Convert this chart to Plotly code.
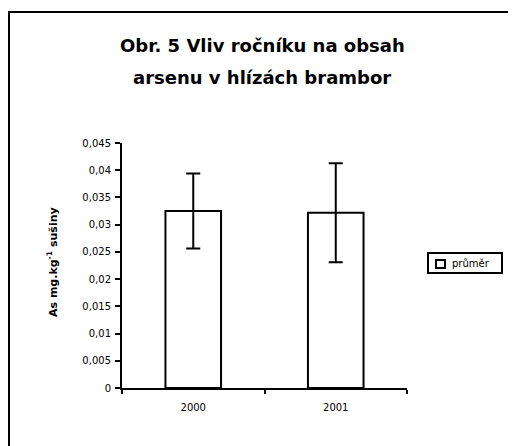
import plotly.graph_objects as go

years = ["2000", "2001"]
mean_as = [0.0325, 0.0322]
err_as = [0.0069, 0.0091]
tick_vals = [0, 0.005, 0.01, 0.015, 0.02, 0.025, 0.03, 0.035, 0.04, 0.045]
tick_text = ["0", "0,005", "0,01", "0,015", "0,02", "0,025", "0,03", "0,035", "0,04", "0,045"]
series_name = "průměr"
title_lines = ["Obr. 5 Vliv ročníku na obsah", "arsenu v hlízách brambor"]
y_title = "As mg.kg<sup>-1</sup> sušiny"

FONT = "DejaVu Sans, Arial, sans-serif"

# page has 8px body margin -> figure is 8px smaller, coordinates below are page pixels
OFF = 8
W, H = 516 - OFF, 446 - OFF
AX_L, AX_R, AX_T, AX_B = 122, 407, 143, 388   # page pixel positions of plot area
L = AX_L - OFF
R = W - (AX_R - OFF)
T = AX_T - OFF
B = H - (AX_B - OFF)
pw, ph = AX_R - AX_L, AX_B - AX_T

def px(x):
    return (x - AX_L) / pw

def py(y):
    return (AX_B - y) / ph

fig = go.Figure()
fig.add_trace(go.Bar(
    x=years, y=mean_as, name=series_name,
    marker=dict(color="white", line=dict(color="black", width=2)),
    width=0.39,
    error_y=dict(type="data", array=err_as, visible=True, color="black",
                 thickness=2, width=7),
    showlegend=False,
))

annotations = [
    dict(text="<b>" + title_lines[0] + "</b>", x=px(262), y=py(46), xref="paper", yref="paper",
         showarrow=False, font=dict(size=18, color="black", family=FONT), xanchor="center", yanchor="middle"),
    dict(text="<b>" + title_lines[1] + "</b>", x=px(262), y=py(77), xref="paper", yref="paper",
         showarrow=False, font=dict(size=18, color="black", family=FONT), xanchor="center", yanchor="middle"),
    dict(text="<b>" + y_title + "</b>", x=px(52), y=py(262), xref="paper", yref="paper", textangle=-90,
         showarrow=False, font=dict(size=11, color="black", family=FONT), xanchor="center", yanchor="middle"),
    # legend text
    dict(text=series_name, x=px(450), y=py(263), xref="paper", yref="paper",
         showarrow=False, font=dict(size=10, color="black", family=FONT), xanchor="left", yanchor="middle"),
]

shapes = [
    dict(type="rect", xref="paper", yref="paper", x0=px(9), x1=px(540), y0=py(470), y1=py(12),
         line=dict(color="black", width=2), fillcolor="rgba(0,0,0,0)", layer="below"),
    # legend box
    dict(type="rect", xref="paper", yref="paper", x0=px(428), x1=px(502), y0=py(273), y1=py(253),
         line=dict(color="black", width=2), fillcolor="white"),
    # legend key
    dict(type="rect", xref="paper", yref="paper", x0=px(436), x1=px(445), y0=py(268), y1=py(260),
         line=dict(color="black", width=2), fillcolor="white"),
]

fig.update_layout(
    width=W, height=H,
    margin=dict(l=L, r=R, t=T, b=B, autoexpand=False),
    paper_bgcolor="white", plot_bgcolor="white",
    font=dict(family=FONT, size=10, color="black"),
    annotations=annotations,
    shapes=shapes,
    bargap=0.61,
    showlegend=False,
    xaxis=dict(type="category", showline=True, linecolor="black", linewidth=2,
               ticks="outside", tickson="boundaries", ticklen=4, tickwidth=2,
               tickcolor="black", showgrid=False, zeroline=False,
               ticklabelstandoff=9,
               tickfont=dict(size=10, family=FONT)),
    yaxis=dict(range=[0, 0.045], tickvals=tick_vals, ticktext=tick_text,
               showline=True, linecolor="black", linewidth=2,
               ticks="outside", ticklen=5, tickwidth=2, tickcolor="black",
               showgrid=False, zeroline=False,
               ticklabelstandoff=2,
               tickfont=dict(size=10, family=FONT)),
)

fig.write_html("out.html")
